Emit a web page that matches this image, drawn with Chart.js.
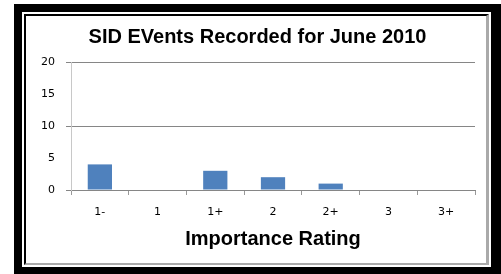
<!DOCTYPE html>
<html>
<head>
<meta charset="utf-8">
<title>SID Events Recorded for June 2010</title>
<script src="https://cdn.jsdelivr.net/npm/chart.js@4/dist/chart.umd.min.js"></script>
<style>
    html, body { margin: 0; padding: 0; background: #fff; }
    body { position: relative; width: 501px; height: 274px; overflow: hidden; }
    /* picture frame: thick black band, white line, thin inner border */
    #outer { position: absolute; left: 14px; top: 4px; width: 487px; height: 270px; background: #000; }
    #ring { position: absolute; left: 22px; top: 12px; width: 469px; height: 255px; background: #fff; }
    #panel {
        position: absolute; left: 24px; top: 14px; width: 465px; height: 251px; background: #fff;
        box-sizing: border-box;
        border-left: 2px solid #000; border-top: 2px solid #000;
        border-right: 3px solid #aaa; border-bottom: 2px solid #aaa;
    }
    #wrap { position: absolute; left: 0; top: 0; width: 501px; height: 274px; }
</style>
</head>
<body>
<div id="outer"></div>
<div id="ring"></div>
<div id="panel"></div>
<div id="wrap"><canvas id="barChart"></canvas></div>
<script>
// Chart data
const categories = ['1-', '1', '1+', '2', '2+', '3', '3+'];
const eventCounts = [4, 0, 3, 2, 1, 0, 0];
const yTicks = [0, 5, 10, 15, 20];

document.addEventListener('DOMContentLoaded', function() {
    drawBarChart();
});

// Function to draw the bar chart
function drawBarChart() {
    const ctx = document.getElementById('barChart').getContext('2d');
    new Chart(ctx, {
        type: 'bar',
        data: {
            labels: categories,
            datasets: [{
                label: 'SID Events',
                data: eventCounts,
                backgroundColor: '#4F81BD',
                borderWidth: 0,
                barPercentage: 0.42,
                categoryPercentage: 1.0
            }]
        },
        options: {
            responsive: true,
            maintainAspectRatio: false,
            animation: false,
            devicePixelRatio: 1,
            layout: {
                // left padding keeps the chart title centred on the frame
                padding: { left: 40, right: 26, top: 0, bottom: 0 }
            },
            scales: {
                x: {
                    afterFit: function(scale) { scale.height = 84; },
                    grid: {
                        offset: true,
                        drawOnChartArea: false,
                        tickLength: 5,
                        color: '#999999'
                    },
                    border: { color: '#868686' },
                    ticks: {
                        padding: 11,
                        color: '#000',
                        font: { family: 'DejaVu Sans', size: 11 }
                    },
                    title: {
                        display: true,
                        text: 'Importance Rating',
                        color: '#000',
                        font: { family: 'Liberation Sans', size: 20, weight: 'bold' },
                        padding: { top: 0, bottom: 23 }
                    }
                },
                y: {
                    min: 0,
                    max: 20,
                    afterFit: function(scale) { scale.width = 31; },
                    afterBuildTicks: function(scale) {
                        scale.ticks = yTicks.map(v => ({ value: v }));
                    },
                    grid: {
                        tickLength: 5,
                        color: c => (c.tick && c.tick.value % 10 === 0) ? '#868686' : 'rgba(0,0,0,0)'
                    },
                    border: { color: '#c8c8c8' },
                    ticks: {
                        padding: 11,
                        color: '#000',
                        font: { family: 'DejaVu Sans', size: 11 }
                    }
                }
            },
            plugins: {
                legend: { display: false },
                tooltip: { enabled: false },
                title: {
                    display: true,
                    text: 'SID EVents Recorded for June 2010',
                    color: '#000',
                    font: { family: 'Liberation Sans', size: 20, weight: 'bold' },
                    padding: { top: 25, bottom: 13 }
                }
            }
        }
    });
}
</script>
</body>
</html>
